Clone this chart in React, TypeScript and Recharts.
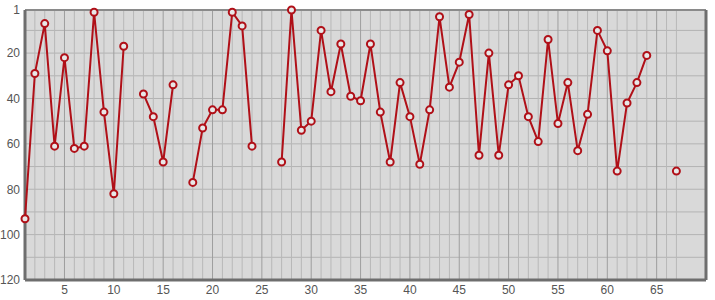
import { LineChart, Line, XAxis, YAxis, ReferenceLine, ReferenceArea } from "recharts";

const positions = Array.from({ length: 67 }, (_, i) => i + 1);

const ranks: (number | null)[] = [
  93, 29, 7, 61, 22, 62, 61, 2, 46, 82, 17, null, 38, 48, 68, 34, null, 77, 53, 45,
  45, 2, 8, 61, null, null, 68, 1, 54, 50, 10, 37, 16, 39, 41, 16, 46, 68, 33, 48,
  69, 45, 4, 35, 24, 3, 65, 20, 65, 34, 30, 48, 59, 14, 51, 33, 63, 47, 10, 19,
  72, 42, 33, 21, null, null, 72,
];

const xTicks = [5, 10, 15, 20, 25, 30, 35, 40, 45, 50, 55, 60, 65];
const yTicks = [1, 20, 40, 60, 80, 100, 120];
const yGrid = [10, 20, 30, 40, 50, 60, 70, 80, 90, 100, 110];

const data = positions.map((x, i) => ({ x, rank: ranks[i] }));

const tickStyle = { fill: "#555", fontSize: 12, fontFamily: "Liberation Sans, Arial, sans-serif" };

export default function App() {
  return (
    <div>
      <style>{`body{margin:0}`}</style>
      <LineChart width={715} height={300} data={data} margin={{ top: 10, right: 9, bottom: 0, left: 0 }}>
        <XAxis
          dataKey="x"
          type="number"
          domain={[1, 70]}
          ticks={xTicks}
          axisLine={false}
          tickLine={false}
          tickSize={5}
          tickMargin={0}
          height={20}
          tick={tickStyle}
        />
        <YAxis
          type="number"
          domain={[1, 120]}
          reversed
          ticks={yTicks}
          axisLine={false}
          tickLine={false}
          tickSize={5}
          tickMargin={0}
          width={25}
          tick={tickStyle}
          interval={0}
        />
        <ReferenceArea x1={1} x2={70} y1={1} y2={120} fill="#d9d9d9" fillOpacity={1} stroke="none" />
        {yGrid.map((v) => (
          <ReferenceLine key={"h" + v} y={v} stroke="#b3b3b3" strokeWidth={1} />
        ))}
        {positions.map((v) => (
          <ReferenceLine
            key={"v" + v}
            x={v}
            stroke={v % 5 === 0 ? "#9e9e9e" : "#b8b8b8"}
            strokeWidth={1}
          />
        ))}
        <ReferenceLine y={1} stroke="#8a8a8a" strokeWidth={2} />
        <ReferenceLine x={70} stroke="#6e6e6e" strokeWidth={3} />
        <ReferenceLine x={1} stroke="#6e6e6e" strokeWidth={3} />
        <ReferenceLine y={120} stroke="#6e6e6e" strokeWidth={3} />
        <Line
          dataKey="rank"
          stroke="#b01018"
          strokeWidth={2}
          dot={{ r: 3.5, stroke: "#b01018", strokeWidth: 2, fill: "#e8e8e8" }}
          isAnimationActive={false}
          connectNulls={false}
        />
      </LineChart>
    </div>
  );
}
